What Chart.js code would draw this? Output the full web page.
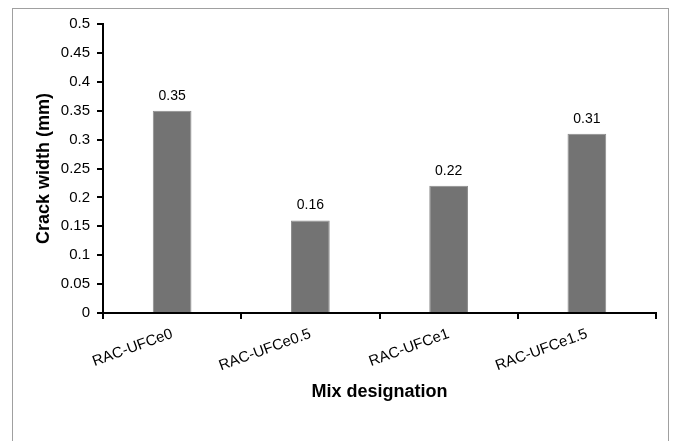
<!DOCTYPE html>
<html lang="en">
<head>
    <meta charset="UTF-8">
    <title>Crack width</title>
    <script src="https://cdn.jsdelivr.net/npm/chart.js"></script>
    <style>
        html, body { margin: 0; padding: 0; background: #fff; }
        #wrap { position: relative; width: 676px; height: 441px; overflow: hidden; }
        #frame { position: absolute; left: 12px; top: 8px; width: 655px; height: 460px; border: 1px solid #a0a0a0; }
        #myChart { position: absolute; left: 0; top: 0; }
    </style>
</head>
<body>
    <div id="wrap">
        <div id="frame"></div>
        <canvas id="myChart" width="676" height="441"></canvas>
    </div>

    <script>
        // valores
        const mixes = ['RAC-UFCe0', 'RAC-UFCe0.5', 'RAC-UFCe1', 'RAC-UFCe1.5'];
        const crackWidth = [0.35, 0.16, 0.22, 0.31];
        const yTicks = [0, 0.05, 0.1, 0.15, 0.2, 0.25, 0.3, 0.35, 0.4, 0.45, 0.5];

        const barLabels = {
            id: 'barLabels',
            afterDatasetsDraw(chart) {
                const ctx = chart.ctx;
                const meta = chart.getDatasetMeta(0);
                ctx.save();
                ctx.font = '14px "Liberation Sans", Arial, sans-serif';
                ctx.fillStyle = '#000';
                ctx.textAlign = 'center';
                ctx.textBaseline = 'middle';
                meta.data.forEach(function (bar, i) {
                    ctx.fillText(String(crackWidth[i]), bar.x, bar.y - 15);
                });
                ctx.restore();
            }
        };

        const ctx = document.getElementById('myChart').getContext('2d');
        new Chart(ctx, {
            type: 'bar',
            data: {
                labels: mixes,
                datasets: [{
                    data: crackWidth,
                    backgroundColor: 'rgb(115,115,115)',
                    borderColor: 'rgb(140,140,140)',
                    borderWidth: 1,
                    barPercentage: 0.28,
                    categoryPercentage: 1
                }]
            },
            options: {
                responsive: false,
                animation: false,
                layout: { padding: { top: 24, right: 20, left: 0, bottom: 0 } },
                plugins: {
                    legend: { display: false },
                    tooltip: { enabled: false }
                },
                scales: {
                    x: {
                        afterFit: function (scale) { scale.height = 128; },
                        grid: {
                            offset: true,
                            drawOnChartArea: false,
                            drawTicks: true,
                            tickLength: 6,
                            color: '#000',
                            lineWidth: 2
                        },
                        border: { color: '#000', width: 2 },
                        ticks: {
                            autoSkip: false,
                            minRotation: 20,
                            maxRotation: 20,
                            padding: 6,
                            color: '#000',
                            font: { family: '"Liberation Sans", Arial, sans-serif', size: 15 }
                        },
                        title: {
                            display: true,
                            text: 'Mix designation',
                            color: '#000',
                            font: { family: '"Liberation Sans", Arial, sans-serif', size: 18, weight: 'bold' },
                            padding: { top: 0, bottom: 38 }
                        }
                    },
                    y: {
                        min: 0,
                        max: 0.5,
                        afterFit: function (scale) { scale.width = 103; },
                        afterBuildTicks: function (scale) {
                            scale.ticks = yTicks.map(v => ({ value: v }));
                        },
                        grid: {
                            drawOnChartArea: false,
                            drawTicks: true,
                            tickLength: 6,
                            color: '#000',
                            lineWidth: 2
                        },
                        border: { color: '#000', width: 2 },
                        ticks: {
                            padding: 7,
                            color: '#000',
                            font: { family: '"Liberation Sans", Arial, sans-serif', size: 15 },
                            callback: function (v) { return String(v); }
                        },
                        title: {
                            display: true,
                            text: 'Crack width (mm)',
                            color: '#000',
                            font: { family: '"Liberation Sans", Arial, sans-serif', size: 18, weight: 'bold' },
                            padding: { top: 33, bottom: 0 }
                        }
                    }
                }
            },
            plugins: [barLabels]
        });
    </script>
</body>
</html>
